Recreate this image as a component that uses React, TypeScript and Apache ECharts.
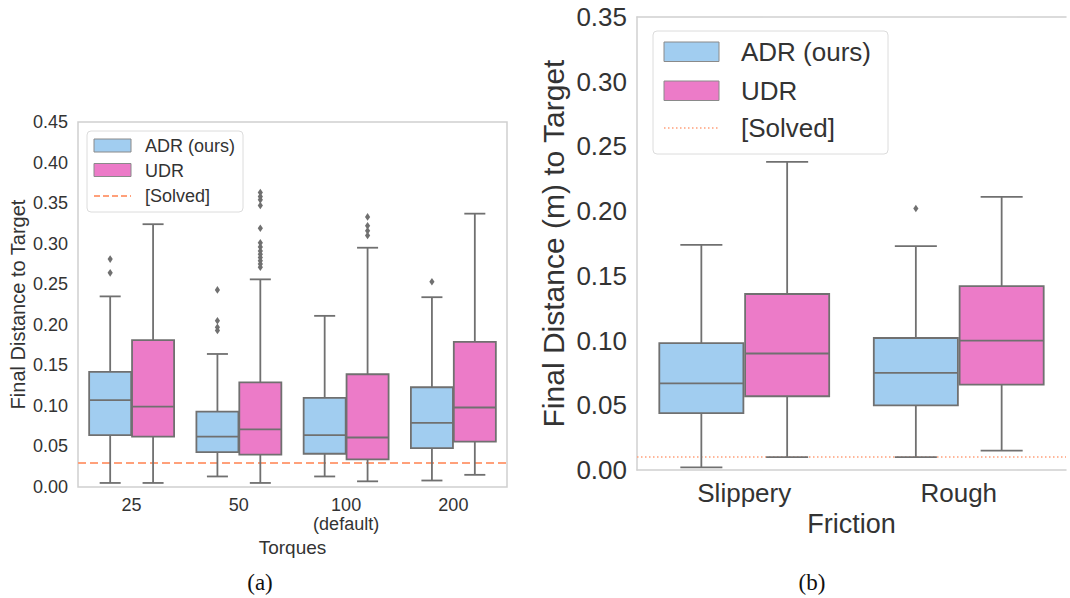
import React, { useEffect, useRef } from 'react';
import * as echarts from 'echarts';

// ---------- data ----------
const torqueCategories = ['25', '50', '100\n(default)', '200'];
// [low whisker, Q1, median, Q3, high whisker]
const adrTorque = [
  [0.005, 0.064, 0.107, 0.142, 0.235],
  [0.013, 0.043, 0.062, 0.093, 0.164],
  [0.013, 0.041, 0.064, 0.110, 0.211],
  [0.008, 0.048, 0.079, 0.123, 0.234],
];
const udrTorque = [
  [0.005, 0.062, 0.099, 0.181, 0.324],
  [0.005, 0.040, 0.071, 0.129, 0.256],
  [0.007, 0.034, 0.061, 0.139, 0.295],
  [0.015, 0.056, 0.098, 0.179, 0.337],
];
const adrTorqueOutliers = [
  [0.281, 0.264],
  [0.243, 0.205, 0.197, 0.193],
  [],
  [0.253],
];
const udrTorqueOutliers = [
  [],
  [0.363, 0.358, 0.354, 0.347, 0.319, 0.301, 0.296, 0.291, 0.287, 0.283, 0.279, 0.275, 0.271],
  [0.333, 0.322, 0.316, 0.310],
  [],
];
const torqueSolved = 0.025;

const frictionCategories = ['Slippery', 'Rough'];
const adrFriction = [
  [0.002, 0.044, 0.067, 0.098, 0.174],
  [0.010, 0.050, 0.075, 0.102, 0.173],
];
const udrFriction = [
  [0.010, 0.057, 0.090, 0.136, 0.238],
  [0.015, 0.066, 0.100, 0.142, 0.211],
];
const adrFrictionOutliers = [[], [0.202]];
const udrFrictionOutliers = [[], []];
const frictionSolved = 0.01;

// ---------- style ----------
const ADR_COLOR = '#a1cdf0';
const UDR_COLOR = '#ec7bc8';
const EDGE = '#707070';
const SOLVED = '#ffa07a';
const SPINE = '#d0d0d0';
const TEXT = '#333333';
const FONT = '"Liberation Sans", Arial, sans-serif';
const SERIF = '"Liberation Serif", "DejaVu Serif", serif';
const HUE_OFFSETS = [-0.2, 0.2];

function boxRenderer(hue: number, fill: string) {
  return (params: any, api: any) => {
    const cat = api.value(0);
    const band = api.size([1, 0])[0];
    const base = api.coord([cat, 0]);
    const cx = base[0] + HUE_OFFSETS[hue] * band;
    const w = band * 0.392;
    const y = (k: number) => api.coord([cat, api.value(k)])[1];
    const yLow = y(1), yQ1 = y(2), yMed = y(3), yQ3 = y(4), yHigh = y(5);
    const ls = { stroke: EDGE, lineWidth: 1.8, fill: null };
    return {
      type: 'group',
      children: [
        { type: 'line', shape: { x1: cx, y1: yLow, x2: cx, y2: yQ1 }, style: ls },
        { type: 'line', shape: { x1: cx, y1: yQ3, x2: cx, y2: yHigh }, style: ls },
        { type: 'line', shape: { x1: cx - w / 4, y1: yLow, x2: cx + w / 4, y2: yLow }, style: ls },
        { type: 'line', shape: { x1: cx - w / 4, y1: yHigh, x2: cx + w / 4, y2: yHigh }, style: ls },
        {
          type: 'rect',
          shape: { x: cx - w / 2, y: yQ3, width: w, height: yQ1 - yQ3 },
          style: { fill, stroke: EDGE, lineWidth: 1.8 },
        },
        { type: 'line', shape: { x1: cx - w / 2, y1: yMed, x2: cx + w / 2, y2: yMed }, style: ls },
      ],
    };
  };
}

function outlierRenderer(params: any, api: any) {
  const cat = api.value(0);
  const hue = api.value(1);
  const band = api.size([1, 0])[0];
  const p = api.coord([cat, api.value(2)]);
  const cx = p[0] + HUE_OFFSETS[hue] * band;
  const cy = p[1];
  return {
    type: 'polygon',
    shape: { points: [[cx, cy - 3.8], [cx + 2.6, cy], [cx, cy + 3.8], [cx - 2.6, cy]] },
    style: { fill: EDGE },
  };
}

const boxData = (stats: number[][]) => stats.map((s, i) => [i, ...s]);
const outlierData = (adr: number[][], udr: number[][]) => {
  const out: number[][] = [];
  adr.forEach((vals, i) => vals.forEach((v) => out.push([i, 0, v])));
  udr.forEach((vals, i) => vals.forEach((v) => out.push([i, 1, v])));
  return out;
};

function legendGraphic(
  x: number, y: number, w: number, h: number,
  patchX: number, patchW: number, patchYs: number[], patchH: number,
  lineY: number, textX: number, textYs: number[], fontSize: number,
  dash: number[], dashWidth: number
) {
  const labels = ['ADR (ours)', 'UDR', '[Solved]'];
  return {
    type: 'group',
    z: 100,
    children: [
      { type: 'rect', shape: { x, y, width: w, height: h, r: 4 }, style: { fill: '#ffffff', stroke: '#dcdcdc', lineWidth: 1 } },
      { type: 'rect', shape: { x: patchX, y: patchYs[0], width: patchW, height: patchH }, style: { fill: ADR_COLOR, stroke: '#8a8a8a', lineWidth: 1 } },
      { type: 'rect', shape: { x: patchX, y: patchYs[1], width: patchW, height: patchH }, style: { fill: UDR_COLOR, stroke: '#8a8a8a', lineWidth: 1 } },
      { type: 'line', shape: { x1: patchX, y1: lineY, x2: patchX + patchW, y2: lineY }, style: { stroke: SOLVED, lineWidth: dashWidth, lineDash: dash } },
      ...labels.map((t, i) => ({
        type: 'text',
        x: textX,
        y: textYs[i],
        style: { text: t, fontSize, fontFamily: FONT, fill: TEXT, align: 'left', verticalAlign: 'middle' },
      })),
    ],
  };
}

export default function App() {
  const ref = useRef<HTMLDivElement>(null);

  useEffect(() => {
    if (!ref.current) return;
    const chart = echarts.init(ref.current, undefined, { renderer: 'svg' });

    const option: any = {
      animation: false,
      backgroundColor: '#ffffff',
      textStyle: { fontFamily: FONT },
      grid: [
        { left: 78, top: 122, width: 429, height: 365, show: true, borderColor: SPINE, borderWidth: 1.5, backgroundColor: 'transparent' },
        { left: 637, top: 17, width: 429, height: 453, show: false },
      ],
      xAxis: [
        {
          gridIndex: 0,
          type: 'category',
          data: torqueCategories,
          axisLine: { show: false },
          axisTick: { show: false },
          splitLine: { show: false },
          axisLabel: { fontSize: 18, color: TEXT, margin: 8, lineHeight: 19, fontFamily: FONT },
          name: 'Torques',
          nameLocation: 'middle',
          nameGap: 44,
          nameTextStyle: { fontSize: 19, color: TEXT, fontFamily: FONT },
        },
        {
          gridIndex: 1,
          type: 'category',
          data: frictionCategories,
          axisLine: { show: true, lineStyle: { color: SPINE, width: 1.5 } },
          axisTick: { show: false },
          splitLine: { show: false },
          axisLabel: { fontSize: 26, color: TEXT, margin: 10, fontFamily: FONT },
          name: 'Friction',
          nameLocation: 'middle',
          nameGap: 39,
          nameTextStyle: { fontSize: 27, color: TEXT, fontFamily: FONT },
        },
        {
          gridIndex: 1,
          type: 'category',
          position: 'top',
          data: frictionCategories,
          axisLine: { show: true, lineStyle: { color: SPINE, width: 1.5 } },
          axisTick: { show: false },
          axisLabel: { show: false },
          splitLine: { show: false },
        },
      ],
      yAxis: [
        {
          gridIndex: 0,
          type: 'value',
          min: 0,
          max: 0.45,
          interval: 0.05,
          axisLine: { show: false },
          axisTick: { show: false },
          splitLine: { show: false },
          axisLabel: { fontSize: 18, color: TEXT, margin: 10, fontFamily: FONT, formatter: (v: number) => v.toFixed(2) },
          name: 'Final Distance to Target',
          nameLocation: 'middle',
          nameGap: 50,
          nameTextStyle: { fontSize: 20, color: TEXT, fontFamily: FONT },
        },
        {
          gridIndex: 1,
          type: 'value',
          min: 0,
          max: 0.35,
          interval: 0.05,
          axisLine: { show: true, lineStyle: { color: SPINE, width: 1.5 } },
          axisTick: { show: false },
          splitLine: { show: false },
          axisLabel: { fontSize: 26, color: TEXT, margin: 10, fontFamily: FONT, formatter: (v: number) => v.toFixed(2) },
          name: 'Final Distance (m) to Target',
          nameLocation: 'middle',
          nameGap: 69,
          nameTextStyle: { fontSize: 30, color: TEXT, fontFamily: FONT },
        },
      ],
      series: [
        {
          name: 'ADR (ours)',
          type: 'custom',
          xAxisIndex: 0,
          yAxisIndex: 0,
          renderItem: boxRenderer(0, ADR_COLOR),
          encode: { x: 0, y: [1, 2, 3, 4, 5] },
          data: boxData(adrTorque),
          z: 3,
          markLine: {
            silent: true,
            symbol: 'none',
            label: { show: false },
            lineStyle: { color: SOLVED, type: [8, 4], width: 2 },
            data: [{ yAxis: torqueSolved }],
            z: 1,
          },
        },
        {
          name: 'UDR',
          type: 'custom',
          xAxisIndex: 0,
          yAxisIndex: 0,
          renderItem: boxRenderer(1, UDR_COLOR),
          encode: { x: 0, y: [1, 2, 3, 4, 5] },
          data: boxData(udrTorque),
          z: 3,
        },
        {
          name: 'outliers-a',
          type: 'custom',
          xAxisIndex: 0,
          yAxisIndex: 0,
          renderItem: outlierRenderer,
          encode: { x: 0, y: 2 },
          data: outlierData(adrTorqueOutliers, udrTorqueOutliers),
          z: 4,
        },
        {
          name: 'ADR (ours)',
          type: 'custom',
          xAxisIndex: 1,
          yAxisIndex: 1,
          renderItem: boxRenderer(0, ADR_COLOR),
          encode: { x: 0, y: [1, 2, 3, 4, 5] },
          data: boxData(adrFriction),
          z: 3,
          markLine: {
            silent: true,
            symbol: 'none',
            label: { show: false },
            lineStyle: { color: SOLVED, type: [1.5, 2.5], width: 1.5 },
            data: [{ yAxis: frictionSolved }],
            z: 1,
          },
        },
        {
          name: 'UDR',
          type: 'custom',
          xAxisIndex: 1,
          yAxisIndex: 1,
          renderItem: boxRenderer(1, UDR_COLOR),
          encode: { x: 0, y: [1, 2, 3, 4, 5] },
          data: boxData(udrFriction),
          z: 3,
        },
        {
          name: 'outliers-b',
          type: 'custom',
          xAxisIndex: 1,
          yAxisIndex: 1,
          renderItem: outlierRenderer,
          encode: { x: 0, y: 2 },
          data: outlierData(adrFrictionOutliers, udrFrictionOutliers),
          z: 4,
        },
      ],
      graphic: [
        legendGraphic(87, 131, 156, 81, 94, 37, [139, 163.5], 13, 196, 145, [146, 171, 196], 18, [6, 3], 2),
        legendGraphic(653, 31, 235, 123, 664, 55, [42, 81], 19.5, 128, 741, [52, 91, 128], 26, [1.5, 2.5], 1.5),
        {
          type: 'text',
          x: 260,
          y: 582,
          style: { text: '(a)', fontSize: 23, fontFamily: SERIF, fill: '#111', align: 'center', verticalAlign: 'middle' },
        },
        {
          type: 'text',
          x: 812,
          y: 582,
          style: { text: '(b)', fontSize: 23, fontFamily: SERIF, fill: '#111', align: 'center', verticalAlign: 'middle' },
        },
      ],
    };

    chart.setOption(option);
    return () => chart.dispose();
  }, []);

  return (
    <div
      ref={ref}
      style={{ position: 'absolute', left: 0, top: 0, width: 1070, height: 598, background: '#fff' }}
    />
  );
}
